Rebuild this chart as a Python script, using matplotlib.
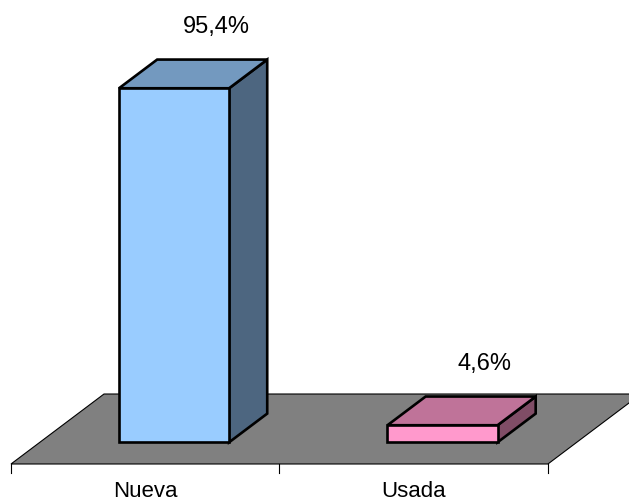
import matplotlib
matplotlib.use("Agg")
import matplotlib.pyplot as plt
from matplotlib.patches import Polygon

plt.rcParams['font.family'] = ['Liberation Sans', 'DejaVu Sans']

categorias = ['Nueva', 'Usada']
valores = [95.4, 4.6]
etiquetas = ['95,4%', '4,6%']
color_frente = ['#99CCFF', '#FF99CC']
color_techo = ['#7399BF', '#BF7399']
color_lado = ['#4D6680', '#804D66']

# perspectiva oblicua: vector de profundidad del piso (en unidades de datos)
prof_x = 0.3464
prof_y = 18.86
t0 = 0.31      # donde empieza la barra dentro del piso
t1 = 0.72      # donde termina
ancho = 0.41

fig = plt.figure(figsize=(6.29, 5.03), dpi=100)
ax = fig.add_axes([0, 0, 1, 1])
ax.set_xlim(-0.041, 2.302)
ax.set_ylim(-10.51, 125.03)
ax.axis('off')

n = len(categorias)

# piso gris
piso = Polygon([(0, 0), (n, 0), (n + prof_x, prof_y), (prof_x, prof_y)],
               closed=True, facecolor='#808080', edgecolor='black', linewidth=0.8)
ax.add_patch(piso)

# eje de categorias con marcas
for i in range(n + 1):
    ax.plot([i, i], [0, -2.43], color='black', linewidth=0.8)
for i, cat in enumerate(categorias):
    ax.text(i + 0.5, -8.95, cat, ha='center', va='baseline', fontsize=16)

# barras 3D
for i, v in enumerate(valores):
    x0 = i + 0.5 - ancho / 2 + t0 * prof_x
    y0 = t0 * prof_y
    dx = (t1 - t0) * prof_x
    dy = (t1 - t0) * prof_y
    frente = Polygon([(x0, y0), (x0 + ancho, y0), (x0 + ancho, y0 + v), (x0, y0 + v)],
                     closed=True, facecolor=color_frente[i], edgecolor='black',
                     linewidth=1.9, joinstyle='miter')
    techo = Polygon([(x0, y0 + v), (x0 + ancho, y0 + v), (x0 + ancho + dx, y0 + v + dy),
                     (x0 + dx, y0 + v + dy)],
                    closed=True, facecolor=color_techo[i], edgecolor='black',
                    linewidth=1.9, joinstyle='miter')
    lado = Polygon([(x0 + ancho, y0), (x0 + ancho + dx, y0 + dy),
                    (x0 + ancho + dx, y0 + v + dy), (x0 + ancho, y0 + v)],
                   closed=True, facecolor=color_lado[i], edgecolor='black',
                   linewidth=1.9, joinstyle='miter')
    ax.add_patch(lado)
    ax.add_patch(techo)
    ax.add_patch(frente)
    ax.text(x0 + ancho / 2 + dx + 0.015, y0 + v + dy + 7.2, etiquetas[i],
            ha='center', va='baseline', fontsize=17)

fig.savefig('out.png', dpi=100)
